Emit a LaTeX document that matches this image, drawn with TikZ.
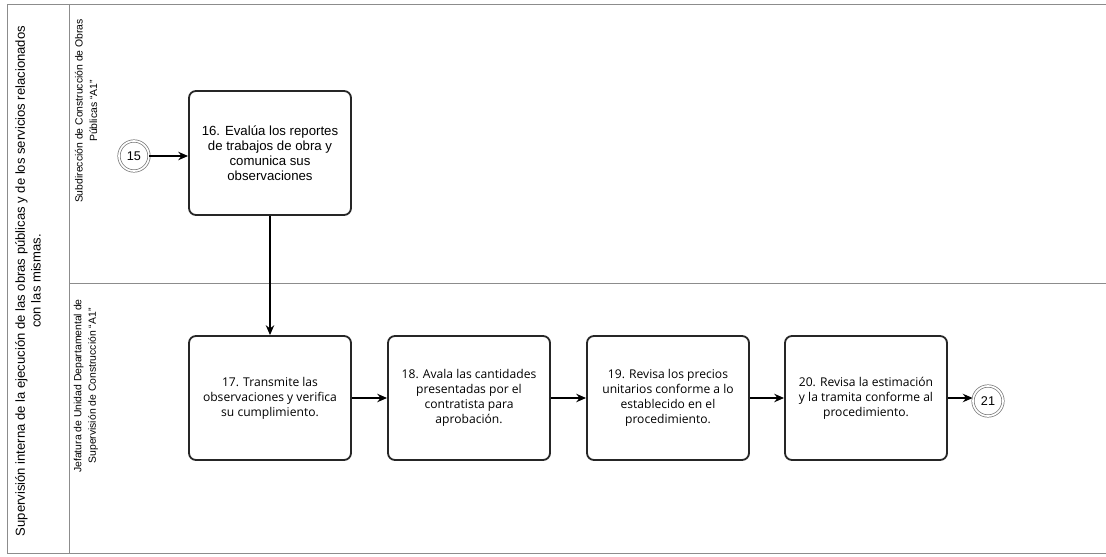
\documentclass[tikz,border=0pt]{standalone}
\usepackage{fontspec}
\setmainfont{Liberation Sans}
\newfontfamily\tareafont{Open Sans}
\usetikzlibrary{arrows.meta}

\begin{document}
\begin{tikzpicture}[x=0.025cm, y=-0.025cm,
    carril/.style={draw=black!45, line width=0.6pt},
    tarea/.style={draw=black!85, line width=1.3pt, rounded corners=5pt, minimum width=4.05cm, minimum height=3.1cm, align=center, font=\tareafont\fontsize{8.6}{10.7}\selectfont},
    evento/.style={circle, draw=black!55, double, double distance=1.2pt, line width=0.5pt, minimum size=0.75cm, inner sep=0pt, font=\fontsize{9}{10}\selectfont},
    flecha/.style={-{Stealth[length=7pt, width=6pt]}, line width=0.9pt}]
    \useasboundingbox (0,0) rectangle (1106,557);
    % pool and lanes
    \draw[carril] (1106,4) -- (7,4) -- (7,553) -- (1106,553);
    \draw[carril] (69,4) -- (69,553);
    \draw[carril] (69,283) -- (1106,283);
    \node[rotate=90, align=center, font=\fontsize{9.3}{11.2}\selectfont] (pool) at (28,281) {Supervisión interna de la ejecución de las obras públicas y de los servicios relacionados\\con las mismas.};
    \node[rotate=90, align=center, font=\fontsize{7.4}{10.3}\selectfont] (lane1) at (86,111) {Subdirección de Construcción de Obras\\Públicas ``A1''};
    \node[rotate=90, align=center, font=\fontsize{7.4}{10.3}\selectfont] (lane2) at (86,386) {Jefatura de Unidad Departamental de\\Supervisión de Construcción ``A1''};
    % activities
    \node[evento] (e15) at (134,156) {15};
    \node[tarea, font=\fontsize{9.4}{10.6}\selectfont] (t16) at (270,153) {16. Evalúa los reportes\\de trabajos de obra y\\comunica sus\\observaciones};
    \node[tarea] (t17) at (270,398) {17. Transmite las\\observaciones y verifica\\su cumplimiento.};
    \node[tarea] (t18) at (469,398) {18. Avala las cantidades\\presentadas por el\\contratista para\\aprobación.};
    \node[tarea] (t19) at (668,398) {19. Revisa los precios\\unitarios conforme a lo\\establecido en el\\procedimiento.};
    \node[tarea] (t20) at (866,398) {20. Revisa la estimación\\y la tramita conforme al\\procedimiento.};
    \node[evento] (e21) at (988,401) {21};
    % flow
    \draw[flecha] (e15.east) -- (t16.west |- e15.east);
    \draw[flecha] (t16) -- (t17);
    \draw[flecha] (t17) -- (t18);
    \draw[flecha] (t18) -- (t19);
    \draw[flecha] (t19) -- (t20);
    \draw[flecha] (t20.east) -- (e21.west |- t20.east);
\end{tikzpicture}
\end{document}
